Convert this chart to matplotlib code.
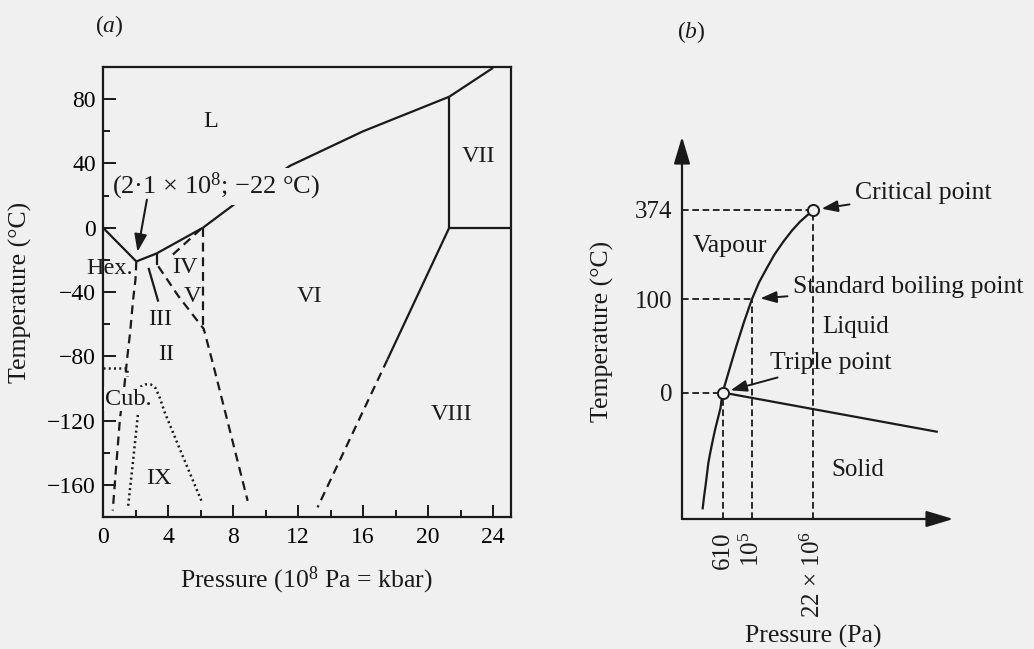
import numpy as np
import matplotlib.pyplot as plt

plt.rcParams['font.family'] = ['Liberation Serif', 'DejaVu Serif']
plt.rcParams['mathtext.fontset'] = 'custom'
plt.rcParams['mathtext.rm'] = 'Liberation Serif'
plt.rcParams['mathtext.it'] = 'Liberation Serif:italic'

paper = '#f0f0f0'
ink = '#1a1a1a'

# ---------- (a) phase diagram of water: pressure (kbar), temperature (C)
# solid boundaries
ih_melt_p = [0, 2.05]
ih_melt_t = [0, -21]
iii_melt_p = [2.05, 3.3]
iii_melt_t = [-21, -16]
v_melt_p = [3.3, 6.15]
v_melt_t = [-16, 0]
vi_melt_p = [6.15, 8.4, 11.5, 16.0, 21.3]
vi_melt_t = [0, 17, 38.5, 60, 81.5]
vii_melt_p = [21.3, 24.0]
vii_melt_t = [81.5, 99.5]
vi_vii_p = [21.3, 21.3]
vi_vii_t = [81.5, 0]
vii_viii_p = [21.3, 25.1]
vii_viii_t = [0, 0]
vi_viii_p = [21.3, 17.5]
vi_viii_t = [0, -82]
iii_ii_p = [2.8, 3.4]
iii_ii_t = [-25, -46]
iii_v_p = [3.3, 3.3]
iii_v_t = [-16, -23]

# dashed (metastable / uncertain) boundaries
vi_viii_ext_p = [17.5, 13.2]
vi_viii_ext_t = [-82, -174]
ih_ii_p = [2.05, 2.0, 1.85, 1.66, 1.5, 1.3, 1.05, 0.75, 0.6]
ih_ii_t = [-21, -32, -45, -66, -80, -100, -118, -156, -176]
ii_v_p = [3.4, 4.64, 6.2, 6.8, 8.9]
ii_v_t = [-24, -42.6, -63, -86, -170]
iv_melt_p = [4.3, 6.0]
iv_melt_t = [-16.7, -1]
v_vi_p = [6.15, 6.15]
v_vi_t = [0, -64]

# dotted boundaries
cub_p = [0, 1.5, 1.5]
cub_t = [-87.5, -87.5, -92.5]
ix_left_p = [1.55, 1.85, 2.15]
ix_left_t = [-173, -145, -116]
ix_dome_p = [2.3, 2.6, 2.95, 3.25, 3.5, 3.8, 4.9, 6.1]
ix_dome_t = [-99, -97.5, -97.6, -100, -106, -115, -142, -171]

phase_names = ['L', 'VII', 'VI', 'IV', 'V', 'III', 'II', 'IX', 'VIII']
phase_p = [6.6, 23.1, 12.7, 5.05, 5.5, 3.5, 3.87, 3.45, 21.45]
phase_t = [66, 44, -42.6, -25, -42.6, -57, -78.7, -156, -116]

triple_label = '(2·1 × 10$^8$; −22 °C)'

# ---------- (b) schematic diagram (not to scale)
t_tick_labels = ['0', '100', '374']
t_tick_pos = [126.5, 220, 309]
p_tick_labels = ['610', '10$^5$', '22 × 10$^6$']
p_tick_pos = [40.5, 70, 131.3]
subl_x = [20.7, 22, 23.5, 25, 26.3, 28, 30, 33, 36, 38.5, 40.5]
subl_y = [10.7, 22, 33, 45, 55.7, 65, 75, 89, 101, 111, 126.5]
vap_x = [40.5, 44, 49, 54.7, 62, 70, 77, 84.7, 92.5, 101.3, 110, 118, 125,
         131.3]
vap_y = [126.5, 138, 155, 174, 197, 220, 236.5, 250.7, 264.5, 277.3, 288.5,
         297.3, 303.5, 309]
fus_x = [40.5, 254.7]
fus_y = [126.5, 87.3]

fig = plt.figure(figsize=(10.34, 6.49), dpi=100, facecolor=paper)

# ======== panel (a)
ax = fig.add_axes([103 / 1034, 1 - 517 / 649, 408 / 1034, 450 / 649])
ax.set_facecolor(paper)
ax.set_xlim(0, 25.1)
ax.set_ylim(-180, 100)
for s in ax.spines.values():
    s.set_linewidth(1.6)
    s.set_color(ink)
ax.set_xticks(np.arange(0, 25, 4))
ax.set_xticks(np.arange(0, 25, 2), minor=True)
ax.set_yticks(np.arange(-160, 81, 40))
ax.set_yticks(np.arange(-160, 100, 20), minor=True)
ax.tick_params(which='both', direction='in', width=1.4, color=ink,
               labelsize=17)
ax.tick_params(which='major', length=9)
ax.tick_params(which='minor', length=5)
ax.tick_params(axis='x', pad=7)
ax.tick_params(axis='y', pad=5)

solid = dict(color=ink, lw=1.6, solid_capstyle='butt')
dash = dict(color=ink, lw=1.6, linestyle=(0, (4, 2.6)))
dot = dict(color=ink, lw=1.8, linestyle=(0, (0.8, 1.3)))

for p, t in [(ih_melt_p, ih_melt_t), (iii_melt_p, iii_melt_t),
             (v_melt_p, v_melt_t), (vi_melt_p, vi_melt_t),
             (vii_melt_p, vii_melt_t), (vi_vii_p, vi_vii_t),
             (vii_viii_p, vii_viii_t), (vi_viii_p, vi_viii_t),
             (iii_ii_p, iii_ii_t), (iii_v_p, iii_v_t)]:
    ax.plot(p, t, **solid)
for p, t in [(vi_viii_ext_p, vi_viii_ext_t), (ih_ii_p, ih_ii_t),
             (ii_v_p, ii_v_t), (iv_melt_p, iv_melt_t), (v_vi_p, v_vi_t)]:
    ax.plot(p, t, **dash)
for p, t in [(cub_p, cub_t), (ix_left_p, ix_left_t), (ix_dome_p, ix_dome_t)]:
    ax.plot(p, t, **dot)

for name, p, t in zip(phase_names, phase_p, phase_t):
    ax.text(p, t, name, fontsize=17.5, ha='center', va='center', color=ink)
ax.text(1.85, -25.5, 'Hex.', fontsize=17.5, ha='right', va='center',
        color=ink, clip_on=False, zorder=5)
ax.text(0.12, -106.6, 'Cub.', fontsize=17.5, ha='left', va='center',
        color=ink, zorder=5,
        bbox=dict(boxstyle='square,pad=0.05', fc=paper, ec='none'))
ax.text(0.55, 25.5, triple_label, fontsize=19, ha='left', va='center',
        color=ink, zorder=5,
        bbox=dict(boxstyle='square,pad=0.1', fc=paper, ec='none'))
ax.annotate('', xy=(2.12, -15), xytext=(2.7, 17.4),
            arrowprops=dict(arrowstyle='-|>,head_length=0.7,head_width=0.25',
                            lw=1.5, color=ink, mutation_scale=15,
                            shrinkA=0, shrinkB=0), zorder=6)

fig.text(20 / 1034, 1 - 292 / 649, 'Temperature (°C)', rotation=90,
         ha='center', va='center', fontsize=18.5, color=ink)
fig.text(306 / 1034, 1 - 580 / 649, 'Pressure (10$^8$ Pa = kbar)',
         ha='center', va='center', fontsize=18.5, color=ink)
fig.text(109 / 1034, 1 - 26 / 649, '($a$)', ha='center', va='center',
         fontsize=17, color=ink)

# ======== panel (b)
bx = fig.add_axes([682 / 1034, 1 - 519 / 649, 272 / 1034, 383 / 649])
bx.set_facecolor('none')
bx.set_xlim(0, 272)
bx.set_ylim(0, 383)
for s in bx.spines.values():
    s.set_visible(False)
bx.set_xticks(p_tick_pos, p_tick_labels, rotation=90)
bx.set_yticks(t_tick_pos, t_tick_labels)
bx.tick_params(length=0, labelsize=18, colors=ink)
bx.tick_params(axis='x', pad=9)
bx.tick_params(axis='y', pad=7)

axis_arrow = dict(arrowstyle='-|>,head_length=1.1,head_width=0.33', lw=1.6,
                  color=ink, mutation_scale=15, shrinkA=0, shrinkB=0)
bx.annotate('', xy=(271.3, 0), xytext=(0, 0), arrowprops=axis_arrow,
            annotation_clip=False)
bx.annotate('', xy=(0, 382.3), xytext=(0, 0), arrowprops=axis_arrow,
            annotation_clip=False)

guide = dict(color=ink, lw=1.3, linestyle=(0, (3.7, 2.0)))
for tp, pp in zip(t_tick_pos, p_tick_pos):
    bx.plot([0, pp], [tp, tp], **guide)
    bx.plot([pp, pp], [0, tp], **guide)

bx.plot(subl_x, subl_y, color=ink, lw=1.6)
bx.plot(vap_x, vap_y, color=ink, lw=1.6)
bx.plot(fus_x, fus_y, color=ink, lw=1.6)
bx.plot([p_tick_pos[0], p_tick_pos[2]], [t_tick_pos[0], t_tick_pos[2]],
        linestyle='none', marker='o', ms=8, mfc=paper, mec=ink, mew=1.4,
        zorder=5)

note_arrow = dict(arrowstyle='-|>,head_length=0.7,head_width=0.25', lw=1.4,
                  color=ink, mutation_scale=14, shrinkA=2, shrinkB=6)
bx.annotate('Critical point', xy=(131.3, 309), xytext=(173, 326),
            ha='left', va='center', fontsize=18.5, color=ink,
            arrowprops=note_arrow, annotation_clip=False)
bx.annotate('Standard boiling point', xy=(70, 220), xytext=(111, 232),
            ha='left', va='center', fontsize=18.5, color=ink,
            arrowprops=note_arrow, annotation_clip=False)
bx.annotate('Triple point', xy=(40.5, 126.5), xytext=(88, 156),
            ha='left', va='center', fontsize=18.5, color=ink,
            arrowprops=note_arrow, annotation_clip=False)
bx.text(48, 273, 'Vapour', ha='center', va='center', fontsize=18.5, color=ink)
bx.text(140, 192, 'Liquid', ha='left', va='center', fontsize=18, color=ink)
bx.text(176, 49, 'Solid', ha='center', va='center', fontsize=18, color=ink)

fig.text(602 / 1034, 1 - 331 / 649, 'Temperature (°C)', rotation=90,
         ha='center', va='center', fontsize=18.5, color=ink)
fig.text(813 / 1034, 1 - 636 / 649, 'Pressure (Pa)', ha='center',
         va='center', fontsize=18.5, color=ink)
fig.text(691 / 1034, 1 - 32 / 649, '($b$)', ha='center', va='center',
         fontsize=17, color=ink)

fig.savefig('out.png', dpi=100, facecolor=paper)
